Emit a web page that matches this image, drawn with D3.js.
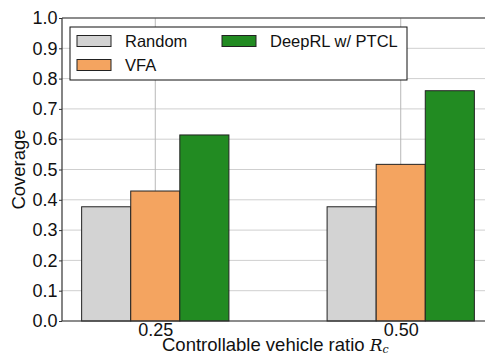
<!DOCTYPE html>
<html>
<head>
<meta charset="utf-8">
<script src="https://cdn.jsdelivr.net/npm/d3@7"></script>
<style>
  html, body { margin: 0; padding: 0; background: #fff; }
  svg { display: block; }
  text { font-family: "Liberation Sans", Arial, Helvetica, sans-serif; fill: #111; }
</style>
</head>
<body>
<svg id="chart" width="485" height="356"></svg>
<script>
// Coverage per method at each controllable vehicle ratio
const categories = ["0.25", "0.50"];
const seriesNames = ["Random", "VFA", "DeepRL w/ PTCL"];
const randomValues = [0.377, 0.377];
const vfaValues = [0.429, 0.517];
const deepRLValues = [0.614, 0.760];
const yTickLabels = ["0.0", "0.1", "0.2", "0.3", "0.4", "0.5", "0.6", "0.7", "0.8", "0.9", "1.0"];

const seriesValues = [randomValues, vfaValues, deepRLValues];
const colors = ["#d3d3d3", "#f4a460", "#228b22"];

const svg = d3.select("#chart");
const plotLeft = 62, plotRight = 494, plotTop = 18, plotBottom = 321;
const barW = 0.2;

const x = d3.scaleLinear().domain([-0.38, categories.length - 1 + 0.38]).range([plotLeft, plotRight]);
const y = d3.scaleLinear().domain([0, 1]).range([plotBottom, plotTop]);

// grid
const grid = svg.append("g");
grid.selectAll("line.h").data(yTickLabels.map(Number)).enter().append("line")
  .attr("x1", plotLeft).attr("x2", plotRight)
  .attr("y1", d => y(d)).attr("y2", d => y(d))
  .attr("stroke", "#cfcfcf").attr("stroke-width", 1);
grid.selectAll("line.v").data(categories).enter().append("line")
  .attr("x1", (d, i) => x(i)).attr("x2", (d, i) => x(i))
  .attr("y1", plotTop).attr("y2", plotBottom)
  .attr("stroke", "#b8b8b8").attr("stroke-width", 1);

// bars
seriesValues.forEach((vals, s) => {
  svg.append("g").selectAll("rect").data(vals).enter().append("rect")
    .attr("x", (d, i) => x(i + (s - 1) * barW - barW / 2))
    .attr("width", x(barW) - x(0))
    .attr("y", d => y(d))
    .attr("height", d => y(0) - y(d))
    .attr("fill", colors[s])
    .attr("stroke", "#222")
    .attr("stroke-width", 1);
});

// spines
svg.append("line").attr("x1", plotLeft).attr("x2", plotLeft).attr("y1", plotTop).attr("y2", plotBottom)
  .attr("stroke", "#333").attr("stroke-width", 1.2);
svg.append("line").attr("x1", plotLeft).attr("x2", plotRight).attr("y1", plotBottom).attr("y2", plotBottom)
  .attr("stroke", "#333").attr("stroke-width", 1.2);
svg.append("line").attr("x1", plotLeft).attr("x2", plotRight).attr("y1", plotTop).attr("y2", plotTop)
  .attr("stroke", "#333").attr("stroke-width", 1.2);

// y axis
const yAxis = d3.axisLeft(y)
  .tickValues(yTickLabels.map(Number))
  .tickFormat((d, i) => yTickLabels[i])
  .tickSize(3).tickPadding(1.5);
const gy = svg.append("g").attr("transform", `translate(${plotLeft},0)`).call(yAxis);
gy.select(".domain").remove();
gy.selectAll(".tick line").attr("stroke", "#333");
gy.selectAll(".tick text").attr("font-size", 18).attr("font-family", "Liberation Sans, Arial, sans-serif").attr("fill", "#111");

// x axis
const xAxis = d3.axisBottom(x)
  .tickValues(categories.map((c, i) => i))
  .tickFormat(i => categories[i])
  .tickSize(0).tickPadding(2);
const gx = svg.append("g").attr("transform", `translate(0,${plotBottom})`).call(xAxis);
gx.select(".domain").remove();
gx.selectAll(".tick text").attr("font-size", 18).attr("font-family", "Liberation Sans, Arial, sans-serif").attr("fill", "#111");

// axis titles
svg.append("text")
  .attr("transform", `translate(25,${(plotTop + plotBottom) / 2}) rotate(-90)`)
  .attr("text-anchor", "middle")
  .attr("font-size", 18.5)
  .text("Coverage");

const xt = svg.append("text")
  .attr("x", 162).attr("y", 351)
  .attr("font-size", 18.5);
xt.append("tspan").text("Controllable vehicle ratio ");
xt.append("tspan").attr("font-family", "DejaVu Serif, Liberation Serif, serif").attr("font-style", "italic").attr("font-size", 17).text("R");
xt.append("tspan").attr("font-family", "DejaVu Serif, Liberation Serif, serif").attr("font-style", "italic").attr("font-size", 11).attr("dy", 2).text("c");

// legend
const lg = svg.append("g");
lg.append("rect").attr("x", 70).attr("y", 27).attr("width", 337).attr("height", 53)
  .attr("fill", "#fff").attr("stroke", "#111").attr("stroke-width", 1);
const legendPos = [[77, 41], [77, 65], [222, 41]];
seriesNames.forEach((name, s) => {
  const [lx, ly] = legendPos[s];
  lg.append("rect").attr("x", lx).attr("y", ly - 5.5).attr("width", 34).attr("height", 11)
    .attr("fill", colors[s]).attr("stroke", "#222").attr("stroke-width", 1);
  lg.append("text").attr("x", lx + 48).attr("y", ly + 6).attr("font-size", 16.5).text(name);
});
</script>
</body>
</html>
